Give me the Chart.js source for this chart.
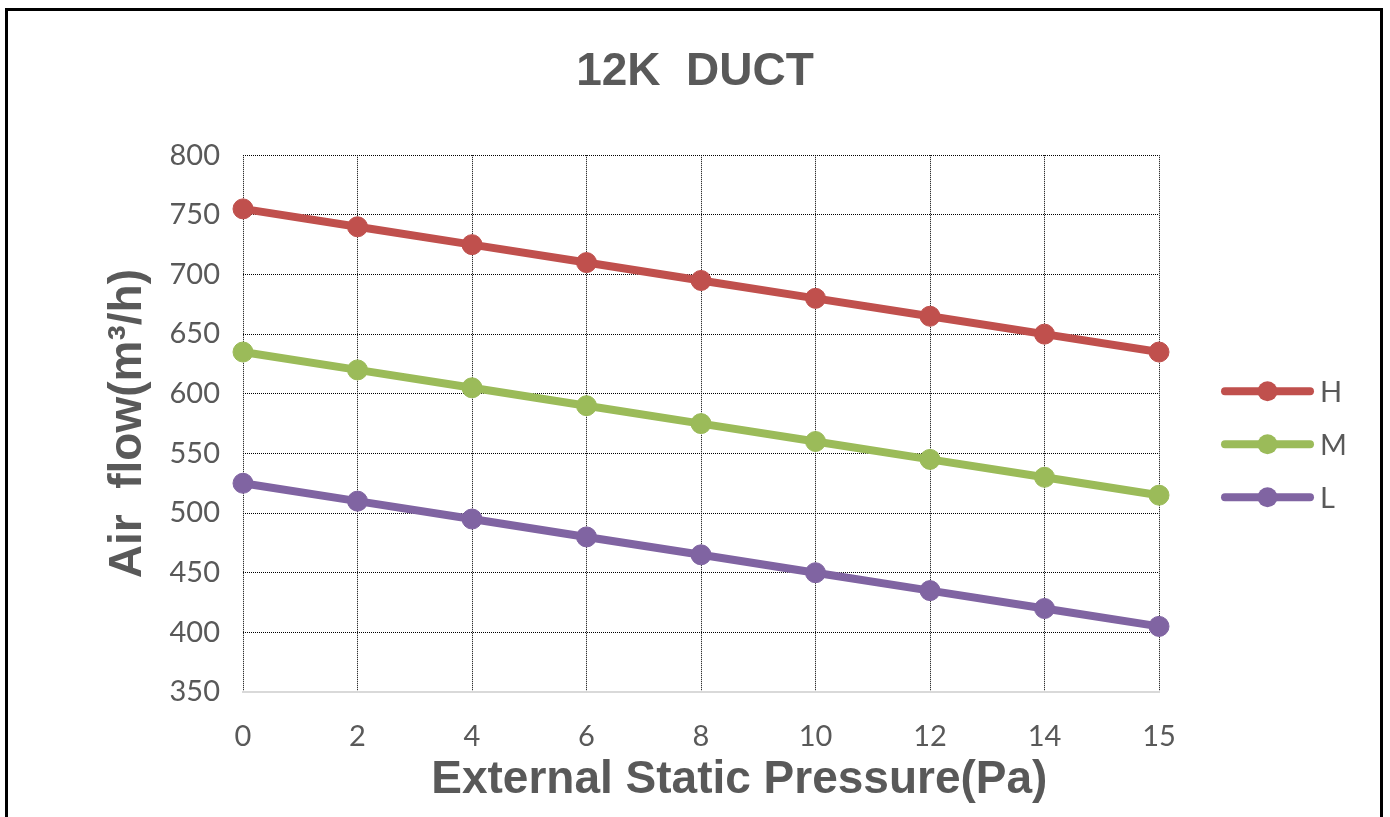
<!DOCTYPE html>
<html>
<head>
<meta charset="utf-8">
<title>12K DUCT</title>
<script src="https://cdn.jsdelivr.net/npm/chart.js@4.4.0/dist/chart.umd.min.js"></script>
<style>
    html, body { margin: 0; padding: 0; background: #fff; }
    #frame {
        position: absolute;
        left: 5px;
        top: 8px;
        width: 1372px;
        height: 900px;
        border: 3px solid #000;
    }
    #airflow-chart { position: absolute; left: 0; top: 0; }
</style>
</head>
<body>
<div id="frame"></div>
<canvas id="airflow-chart" width="1390" height="817"></canvas>
<script>
// Данные графика
const pressureLabels = ['0', '2', '4', '6', '8', '10', '12', '14', '15'];
const flowH = [755, 740, 725, 710, 695, 680, 665, 650, 635];
const flowM = [635, 620, 605, 590, 575, 560, 545, 530, 515];
const flowL = [525, 510, 495, 480, 465, 450, 435, 420, 405];
const seriesNames = ['H', 'M', 'L'];
const seriesColors = ['#C0504D', '#9BBB59', '#8064A2'];

const textColor = '#595959';
const boldFont = '"Liberation Sans", Arial, sans-serif';

// Легенда справа: линия с точкой и подпись
const sideLegend = {
    id: 'sideLegend',
    afterDraw: function(chart) {
        const ctx = chart.ctx;
        const area = chart.chartArea;
        ctx.save();
        chart.data.datasets.forEach(function(ds, i) {
            const y = area.top + 236 + i * 53;
            const x0 = area.right + 66;
            const x1 = area.right + 151;
            ctx.strokeStyle = ds.borderColor;
            ctx.lineWidth = 8;
            ctx.lineCap = 'round';
            ctx.beginPath();
            ctx.moveTo(x0, y);
            ctx.lineTo(x1, y);
            ctx.stroke();
            ctx.fillStyle = ds.borderColor;
            ctx.beginPath();
            ctx.arc((x0 + x1) / 2, y, 10, 0, Math.PI * 2);
            ctx.fill();
            ctx.fillStyle = textColor;
            ctx.font = '29px Lato';
            ctx.textBaseline = 'middle';
            ctx.textAlign = 'left';
            ctx.fillText(ds.label, area.right + 161, y + 1);
        });
        ctx.restore();
    }
};

function makeDataset(name, values, color) {
    return {
        label: name,
        data: values,
        borderColor: color,
        backgroundColor: color,
        borderWidth: 8,
        pointRadius: 10,
        pointBorderWidth: 1,
        pointBackgroundColor: color,
        pointBorderColor: color,
        tension: 0,
        clip: false
    };
}

document.addEventListener('DOMContentLoaded', function() {
    const ctx = document.getElementById('airflow-chart').getContext('2d');
    new Chart(ctx, {
        type: 'line',
        data: {
            labels: pressureLabels,
            datasets: [
                makeDataset(seriesNames[0], flowH, seriesColors[0]),
                makeDataset(seriesNames[1], flowM, seriesColors[1]),
                makeDataset(seriesNames[2], flowL, seriesColors[2])
            ]
        },
        options: {
            responsive: false,
            animation: false,
            layout: {
                padding: 0
            },
            plugins: {
                legend: { display: false },
                tooltip: { enabled: false },
                title: {
                    display: true,
                    text: '12K  DUCT',
                    color: textColor,
                    font: { family: boldFont, size: 46, weight: 'bold' },
                    padding: { top: 45, bottom: 55 }
                }
            },
            scales: {
                x: {
                    type: 'category',
                    offset: false,
                    grid: {
                        color: '#000',
                        lineWidth: 1,
                        drawTicks: false
                    },
                    border: {
                        display: true,
                        color: '#d9d9d9',
                        width: 2,
                        dash: [1, 1]
                    },
                    ticks: {
                        color: textColor,
                        font: { family: 'Lato', size: 29 },
                        padding: 27,
                        maxRotation: 0,
                        autoSkip: false
                    },
                    title: {
                        display: true,
                        text: '      External Static Pressure(Pa)',
                        color: textColor,
                        font: { family: boldFont, size: 46, weight: 'bold' },
                        padding: { top: 0, bottom: 9 }
                    },
                    afterFit: function(scale) {
                        scale.height = 125;
                    }
                },
                y: {
                    min: 350,
                    max: 800,
                    grid: {
                        color: '#000',
                        lineWidth: 1,
                        drawTicks: false
                    },
                    border: {
                        display: false,
                        dash: [1, 1]
                    },
                    ticks: {
                        stepSize: 50,
                        color: textColor,
                        font: { family: 'Lato', size: 29 },
                        padding: 23
                    },
                    title: {
                        display: true,
                        text: 'Air  flow(m³/h)',
                        color: textColor,
                        font: { family: boldFont, size: 46, weight: 'bold' },
                        padding: { top: 101, bottom: 0 }
                    },
                    afterFit: function(scale) {
                        scale.width = 243;
                    }
                },
                // пустая ось справа - место под легенду
                side: {
                    type: 'linear',
                    position: 'right',
                    grid: { display: false },
                    border: { display: false },
                    ticks: { display: false },
                    afterFit: function(scale) {
                        scale.width = 231;
                    }
                }
            }
        },
        plugins: [sideLegend]
    });
});
</script>
</body>
</html>
